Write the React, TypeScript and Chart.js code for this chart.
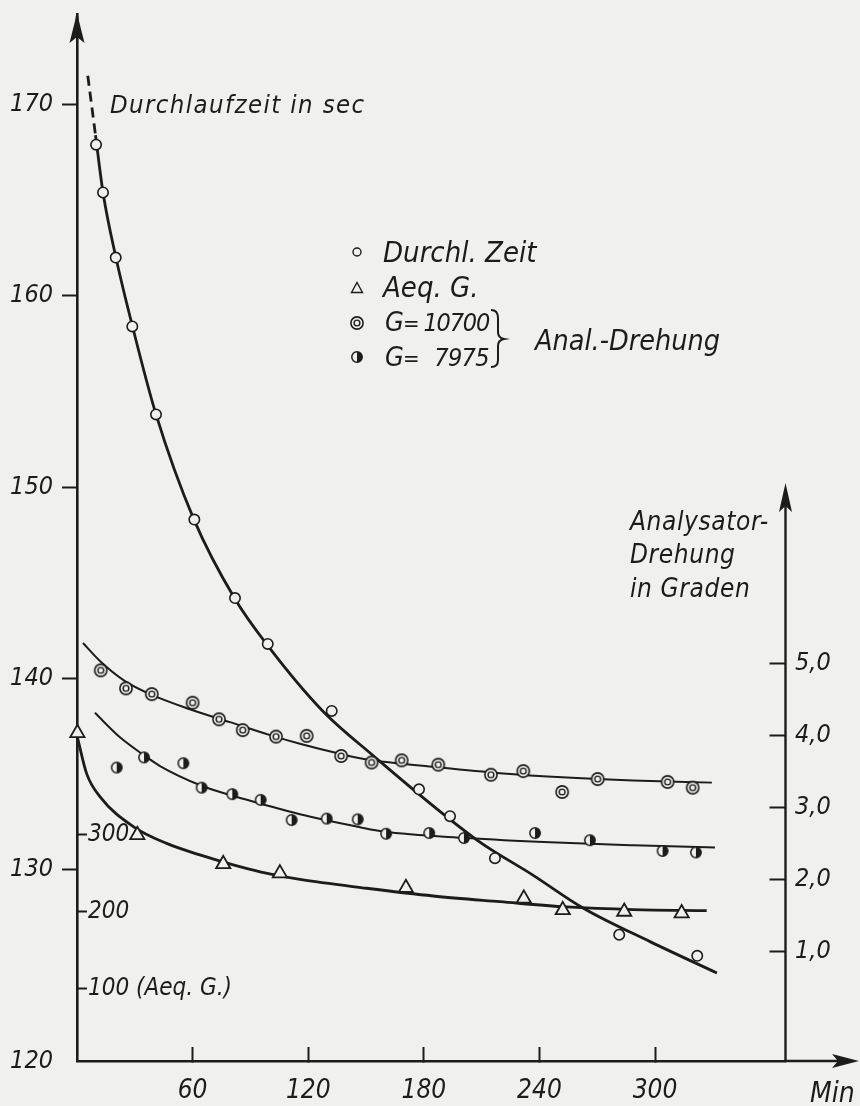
import { useEffect, useRef } from "react";
import { Chart, registerables } from "chart.js";

Chart.register(...registerables);

const INK = "#1c1c1a";
const PAPER = "#f0f0ed";
const FAMILY = "'DejaVu Sans Condensed', 'Liberation Sans Narrow', 'DejaVu Sans', sans-serif";

// ---- axis ranges and ticks ----
const minuteRange = [0, 367.7];
const secRange = [120, 174.73];
const aeqRange = [5.2, 1370.8];
const rotRange = [-0.518, 14.03];

const minuteTicks = [60, 120, 180, 240, 300];
const secTicks = [120, 130, 140, 150, 160, 170];
const aeqTicks = [100, 200, 300];
const rotTicks = [1, 2, 3, 4, 5];

// ---- Durchlaufzeit (sec) ----
const timeMin = [9.9, 13.5, 20.1, 28.7, 41.0, 60.9, 82.0, 99.0, 132.2, 177.5, 193.6, 216.9, 281.4, 321.9];
const timeSec = [167.9, 165.4, 162.0, 158.4, 153.8, 148.3, 144.2, 141.8, 138.3, 134.2, 132.8, 130.6, 126.6, 125.5];
const timeCurveMin = [5.6, 9.6, 13.5, 20.2, 28.8, 41.0, 60.7, 82.0, 99.1, 127.0, 152.1, 207.6, 236.6, 262.6, 297.4, 332.1];
const timeCurveSec = [171.5, 168.4, 165.4, 162.0, 158.4, 153.8, 148.3, 144.15, 141.7, 138.35, 136.1, 131.55, 129.72, 128.0, 126.24, 124.6];

// ---- Aequivalentgewicht ----
const aeqMin = [0.2, 31.3, 75.9, 105.3, 170.7, 231.9, 252.1, 284.0, 313.8];
const aeqVal = [433, 300, 262, 250, 231, 217, 202, 200, 198];
const aeqCurveMin = [0.16, 5.0, 11.9, 29.2, 46.5, 63.8, 81.1, 95.0, 115.7, 150.3, 184.9, 219.5, 254.1, 288.7, 326.8];
const aeqCurveVal = [428, 380, 350, 311, 289, 274, 261, 252, 242, 230.5, 220.4, 213.0, 206.1, 202.6, 201.3];

// ---- Analysator-Drehung, G = 10700 ----
const g1Min = [12.3, 25.4, 38.8, 60.0, 73.7, 86.0, 103.3, 119.2, 137.1, 152.9, 168.5, 187.5, 214.8, 231.6, 251.8, 270.2, 306.5, 319.5];
const g1Rot = [4.91, 4.66, 4.58, 4.46, 4.23, 4.08, 3.99, 4.0, 3.72, 3.63, 3.66, 3.6, 3.46, 3.51, 3.22, 3.4, 3.36, 3.28];
const g1CurveMin = [3.1, 11.9, 24.9, 37.9, 58.6, 79.4, 100.2, 115.7, 136.5, 150.5, 184.7, 219.5, 254.3, 288.5, 329.5];
const g1CurveRot = [5.29, 5.04, 4.76, 4.58, 4.37, 4.19, 4.01, 3.89, 3.75, 3.67, 3.57, 3.48, 3.42, 3.38, 3.35];

// ---- Analysator-Drehung, G = 7975 ----
const g2Min = [20.6, 34.8, 55.2, 64.7, 80.6, 95.3, 111.4, 129.6, 145.7, 160.4, 182.8, 200.8, 237.7, 266.2, 303.9, 321.2];
const g2Rot = [3.56, 3.7, 3.62, 3.28, 3.19, 3.11, 2.83, 2.85, 2.84, 2.64, 2.65, 2.58, 2.65, 2.55, 2.4, 2.38];
const g2CurveMin = [9.3, 22.3, 34.8, 43.1, 64.3, 80.4, 95.0, 115.7, 146.9, 159.0, 202.2, 245.5, 288.7, 331.1];
const g2CurveRot = [4.32, 3.98, 3.73, 3.58, 3.31, 3.17, 3.06, 2.91, 2.73, 2.67, 2.58, 2.52, 2.48, 2.45];

const zip = (xs: number[], ys: number[]) => xs.map((x, i) => ({ x, y: ys[i] }));
const font = (size: number) => ({ family: FAMILY, size, style: "italic" as const });
const fontStr = (size: number) => `italic ${size}px ${FAMILY}`;
const fixTicks = (values: number[]) => (scale: any) => {
  scale.ticks = values.map((value) => ({ value }));
};
const sized = (w: number | null, h: number | null) => (scale: any) => {
  if (w !== null) scale.width = w;
  if (h !== null) scale.height = h;
  scale.paddingTop = 0;
  scale.paddingBottom = 0;
  scale.paddingLeft = 0;
  scale.paddingRight = 0;
};

function makeMarker(size: number, draw: (ctx: CanvasRenderingContext2D, c: number) => void) {
  const cv = document.createElement("canvas");
  cv.width = size;
  cv.height = size;
  const ctx = cv.getContext("2d")!;
  draw(ctx, size / 2);
  return cv;
}

function doubleRing() {
  return makeMarker(16, (ctx, c) => {
    ctx.fillStyle = PAPER;
    ctx.strokeStyle = INK;
    ctx.lineWidth = 1.6;
    ctx.beginPath();
    ctx.arc(c, c, 6.1, 0, Math.PI * 2);
    ctx.fill();
    ctx.stroke();
    ctx.lineWidth = 1.4;
    ctx.beginPath();
    ctx.arc(c, c, 2.9, 0, Math.PI * 2);
    ctx.stroke();
  });
}

function halfDisc() {
  return makeMarker(14, (ctx, c) => {
    const r = 5.2;
    ctx.fillStyle = PAPER;
    ctx.beginPath();
    ctx.arc(c, c, r, 0, Math.PI * 2);
    ctx.fill();
    ctx.fillStyle = INK;
    ctx.beginPath();
    ctx.arc(c, c, r, -Math.PI / 2, Math.PI / 2);
    ctx.closePath();
    ctx.fill();
    ctx.strokeStyle = INK;
    ctx.lineWidth = 1.5;
    ctx.beginPath();
    ctx.arc(c, c, r, 0, Math.PI * 2);
    ctx.stroke();
  });
}

function arrowUp(ctx: CanvasRenderingContext2D, x: number, tip: number, len: number, half: number) {
  ctx.beginPath();
  ctx.moveTo(x, tip);
  ctx.lineTo(x + half, tip + len);
  ctx.lineTo(x, tip + len - 6);
  ctx.lineTo(x - half, tip + len);
  ctx.closePath();
  ctx.fill();
}

function arrowRight(ctx: CanvasRenderingContext2D, tip: number, y: number, len: number, half: number) {
  ctx.beginPath();
  ctx.moveTo(tip, y);
  ctx.lineTo(tip - len, y - half);
  ctx.lineTo(tip - len + 6, y);
  ctx.lineTo(tip - len, y + half);
  ctx.closePath();
  ctx.fill();
}

function text(ctx: any, s: string, x: number, y: number, size: number, spacing = 0, align = "left") {
  ctx.font = fontStr(size);
  ctx.letterSpacing = `${spacing}px`;
  ctx.textAlign = align;
  ctx.fillText(s, x, y);
  ctx.letterSpacing = "0px";
}

export default function App() {
  const canvasRef = useRef<HTMLCanvasElement | null>(null);

  useEffect(() => {
    document.body.style.margin = "0";
    document.body.style.background = PAPER;
    const canvas = canvasRef.current;
    if (!canvas) return;

    const ring2 = doubleRing();
    const half = halfDisc();

    const marks = (data: any[], axis: string, style: any, radius: number, extra: any = {}) => ({
      type: "line",
      data,
      yAxisID: axis,
      showLine: false,
      pointStyle: style,
      pointRadius: radius,
      pointBackgroundColor: PAPER,
      pointBorderColor: INK,
      pointBorderWidth: 1.6,
      clip: false,
      ...extra,
    });
    const curve = (data: any[], axis: string, width: number, extra: any = {}) => ({
      type: "line",
      data,
      yAxisID: axis,
      borderColor: INK,
      borderWidth: width,
      pointRadius: 0,
      fill: false,
      cubicInterpolationMode: "monotone",
      borderCapStyle: "butt",
      clip: false,
      ...extra,
    });

    const decor = {
      id: "decor",
      beforeDraw(chart: any) {
        const { ctx, width, height } = chart;
        ctx.save();
        ctx.fillStyle = PAPER;
        ctx.fillRect(0, 0, width, height);
        ctx.restore();
      },
      afterDraw(chart: any) {
        const { ctx, chartArea } = chart;
        const yl = chart.scales.y;
        const yr = chart.scales.yRot;
        ctx.save();
        ctx.fillStyle = INK;
        ctx.strokeStyle = INK;

        // left axis arrow
        ctx.lineWidth = 2.6;
        ctx.beginPath();
        ctx.moveTo(chartArea.left, chartArea.top + 2);
        ctx.lineTo(chartArea.left, 20);
        ctx.stroke();
        arrowUp(ctx, chartArea.left, 13, 30, 7.5);

        // right axis (only its lower part is drawn) with arrow
        const rx = yr.left;
        ctx.lineWidth = 2.4;
        ctx.beginPath();
        ctx.moveTo(rx, chartArea.bottom);
        ctx.lineTo(rx, 492);
        ctx.stroke();
        arrowUp(ctx, rx, 483, 29, 6.5);

        // x axis continued past the right axis, with arrow
        ctx.lineWidth = 2.6;
        ctx.beginPath();
        ctx.moveTo(chartArea.right - 1, chartArea.bottom);
        ctx.lineTo(850, chartArea.bottom);
        ctx.stroke();
        arrowRight(ctx, 859, chartArea.bottom, 27, 7);

        // axis captions
        ctx.textBaseline = "alphabetic";
        text(ctx, "Durchlaufzeit in sec", 110, yl.getPixelForValue(170) + 9, 25.5, 1.4);
        text(ctx, "Analysator-", 630, 530, 26, 0.6);
        text(ctx, "Drehung", 630, 563, 26, 0.6);
        text(ctx, "in Graden", 630, 597, 26, 0.6);
        text(ctx, "Min", 810, 1102, 28);

        // legend
        text(ctx, "Durchl. Zeit", 383, 262, 29);
        text(ctx, "Aeq. G.", 383, 297, 29);
        text(ctx, "G", 385, 331, 27);
        text(ctx, "=", 403, 331, 22);
        text(ctx, "10700", 489, 331, 25, -1.2, "right");
        text(ctx, "G", 385, 366, 27);
        text(ctx, "=", 403, 366, 22);
        text(ctx, "7975", 489, 366, 25, -0.6, "right");
        text(ctx, "Anal.-Drehung", 535, 350, 28.5);

        ctx.lineWidth = 1.4;
        ctx.fillStyle = PAPER;
        ctx.beginPath();
        ctx.arc(357, 252, 4, 0, Math.PI * 2);
        ctx.fill();
        ctx.stroke();
        ctx.beginPath();
        ctx.moveTo(357, 282.5);
        ctx.lineTo(362.5, 292.5);
        ctx.lineTo(351.5, 292.5);
        ctx.closePath();
        ctx.fill();
        ctx.stroke();
        ctx.drawImage(ring2, 357 - 8, 323 - 8);
        ctx.drawImage(half, 357 - 7, 357 - 7);

        // brace joining the two G entries
        ctx.lineWidth = 2;
        ctx.beginPath();
        ctx.moveTo(491, 310);
        ctx.quadraticCurveTo(498, 310, 498, 318);
        ctx.lineTo(498, 332);
        ctx.quadraticCurveTo(498, 338, 504, 339);
        ctx.quadraticCurveTo(498, 340, 498, 346);
        ctx.lineTo(498, 360);
        ctx.quadraticCurveTo(498, 367, 491, 367);
        ctx.stroke();

        ctx.restore();
      },
    };

    const chart = new Chart(canvas, {
      type: "line",
      data: {
        datasets: [
          marks(zip(timeMin, timeSec), "y", "circle", 5.2),
          marks(zip(aeqMin, aeqVal), "yAeq", "triangle", 8.2, { pointBorderWidth: 1.8 }),
          marks(zip(g1Min, g1Rot), "yRot", ring2, 8),
          marks(zip(g2Min, g2Rot), "yRot", half, 7),
          curve(zip(timeCurveMin, timeCurveSec), "y", 2.8, {
            segment: { borderDash: (c: any) => (c.p0DataIndex === 0 ? [10, 6] : undefined) },
          }),
          curve(zip(aeqCurveMin, aeqCurveVal), "yAeq", 2.8),
          curve(zip(g1CurveMin, g1CurveRot), "yRot", 2),
          curve(zip(g2CurveMin, g2CurveRot), "yRot", 2),
        ] as any,
      },
      options: {
        animation: false,
        responsive: false,
        devicePixelRatio: 1,
        events: [],
        layout: { padding: { top: 14, left: 0, right: 0, bottom: 0 } },
        plugins: { legend: { display: false }, tooltip: { enabled: false } },
        scales: {
          x: {
            type: "linear",
            position: "bottom",
            min: minuteRange[0],
            max: minuteRange[1],
            afterBuildTicks: fixTicks(minuteTicks),
            afterFit: sized(null, 45),
            border: { color: INK, width: 2.6 },
            grid: { drawOnChartArea: false, tickLength: -14, tickWidth: 2, tickColor: INK },
            ticks: {
              padding: 29,
              color: INK,
              font: font(26),
              maxRotation: 0,
              autoSkip: false,
              callback: (v: any) => String(v),
            },
          },
          y: {
            type: "linear",
            position: "left",
            weight: 1,
            min: secRange[0],
            max: secRange[1],
            afterBuildTicks: fixTicks(secTicks),
            afterFit: sized(77, null),
            border: { color: INK, width: 2.6 },
            grid: {
              drawOnChartArea: false,
              tickLength: 15,
              tickWidth: 2,
              tickColor: (c: any) => (c.tick && c.tick.value === secTicks[0] ? "rgba(0,0,0,0)" : INK),
            },
            ticks: { padding: 9, color: INK, font: font(25), callback: (v: any) => String(v) },
          },
          yAeq: {
            type: "linear",
            position: "left",
            weight: 0,
            min: aeqRange[0],
            max: aeqRange[1],
            afterBuildTicks: fixTicks(aeqTicks),
            afterFit: sized(0, null),
            border: { display: false },
            grid: { drawOnChartArea: false, tickLength: -10, tickWidth: 2, tickColor: INK },
            ticks: {
              mirror: true,
              padding: 11,
              color: INK,
              font: font(24),
              callback: (v: any) => (v === aeqTicks[0] ? `${v} (Aeq. G.)` : String(v)),
            },
          },
          yRot: {
            type: "linear",
            position: "right",
            min: rotRange[0],
            max: rotRange[1],
            afterBuildTicks: fixTicks(rotTicks),
            afterFit: sized(74.5, null),
            border: { display: false },
            grid: { drawOnChartArea: false, tickLength: -16, tickWidth: 2, tickColor: INK },
            ticks: {
              padding: 25.5,
              color: INK,
              font: font(25),
              callback: (v: any) => Number(v).toFixed(1).replace(".", ","),
            },
          },
        },
      } as any,
      plugins: [decor],
    });

    return () => chart.destroy();
  }, []);

  return <canvas ref={canvasRef} width={860} height={1106} style={{ display: "block" }} />;
}
